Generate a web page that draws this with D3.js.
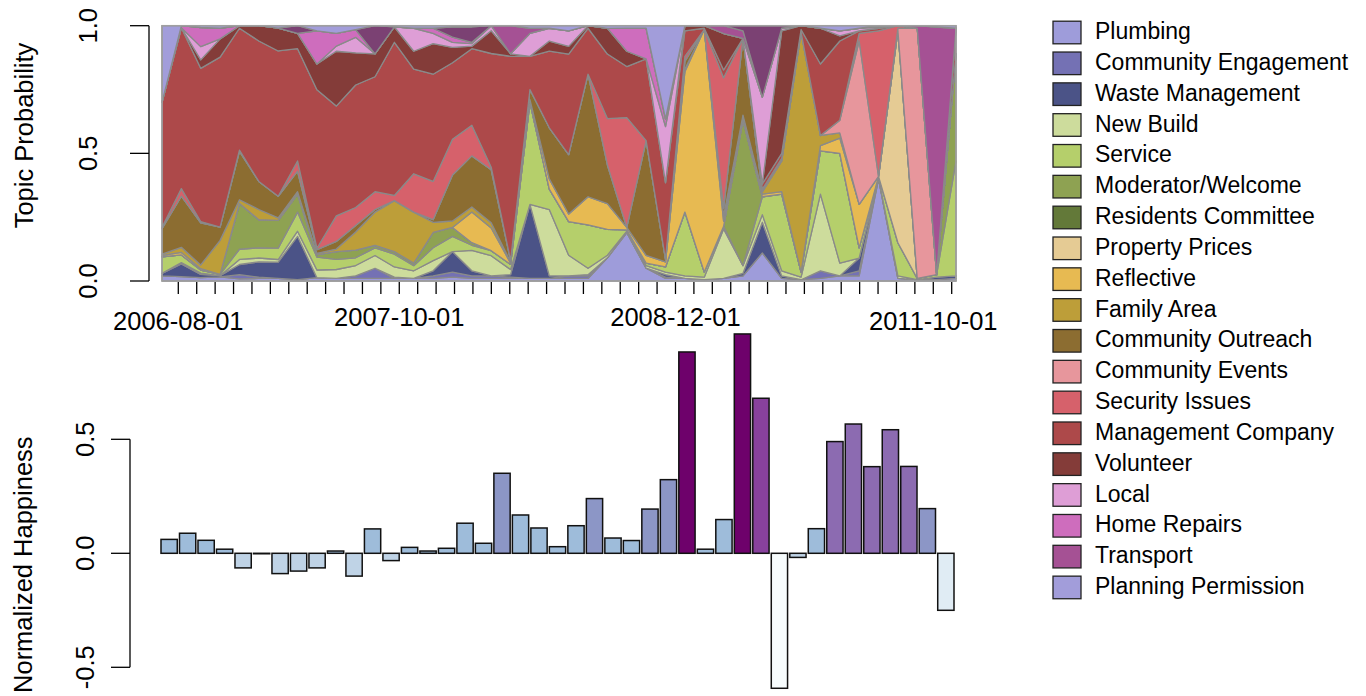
<!DOCTYPE html>
<html>
<head>
<meta charset="utf-8">
<script src="https://cdn.jsdelivr.net/npm/d3@7"></script>
<style>
  body { margin: 0; background: #fff; }
  text { font-family: "Liberation Sans", Arial, Helvetica, sans-serif; fill: #000; }
</style>
</head>
<body>
<script>
// topic names, bottom of the stack first ("" = layer with no legend entry)
var topics = ["Plumbing", "Community Engagement", "Waste Management", "New Build", "Service",
  "Moderator/Welcome", "Residents Committee", "Property Prices", "Reflective", "Family Area",
  "Community Outreach", "Community Events", "Security Issues", "Management Company", "Volunteer",
  "Local", "Home Repairs", "Transport", "", "Planning Permission"];

var topicColors = ["#9e9cda", "#7471b4", "#4b5387", "#cddc9c", "#b5cf6b",
  "#8ea252", "#637939", "#e5cb94", "#e7ba52", "#bd9e39",
  "#8c6d31", "#e7969c", "#d6616b", "#ad494a", "#843c39",
  "#de9ed6", "#ce6dbd", "#a55194", "#7b4173", "#a29dda"];

// topic probability per month (42 months)
var plumbing = [.02,.017,.013,.016,.008,.01,.01,.005,.013,.01,.01,.01,.01,.01,.01,.015,.01,.01,.01,.01,.01,.01,.01,.09,.19,.05,.01,.01,.005,.01,.02,.11,.01,.005,.01,.02,.02,.4,.01,.005,.005,.01];
var commEngagement = [0,0,0,0,.017,.005,0,0,0,0,.01,.04,0,0,.01,.02,.01,.01,.005,0,0,.01,.01,0,0,0,.005,0,0,0,0,0,0,0,.03,0,.02,0,0,0,0,0];
var wasteMgmt = [.01,.05,.013,.005,.04,.06,.065,.17,0,0,0,0,.005,0,.02,.08,.02,0,.01,.29,.01,0,.005,0,0,0,.01,0,0,0,.01,.12,.01,0,0,0,.05,0,0,0,.01,.01];
var newBuild = [0,.005,.005,0,.02,.015,.01,.02,.03,.035,.04,.05,.04,.03,.04,0,.08,.08,.02,0,.26,.08,.025,.01,.005,.01,.01,.01,.01,.19,.03,.03,.02,.01,.3,.05,0,.005,.01,0,0,0];
var service = [.065,.03,.012,.005,.04,.04,.045,.075,.05,.04,.03,.03,.05,.02,.05,.06,.02,.02,.02,.4,.08,.13,.17,.1,.005,.01,.02,.25,.02,.01,0,.07,.3,.02,.17,.43,.04,.005,.13,.005,.01,.45];
var moderator = [0,0,0,0,.18,.11,.11,.07,.01,.03,.03,.01,.01,.01,.06,.035,.01,0,0,0,0,0,0,0,0,0,0,0,0,0,.57,0,0,0,0,0,0,0,0,0,0,.42];
var residents = [0,0,0,0,0,0,0,0,0,0,0,0,0,0,0,0,0,0,0,0,0,0,0,0,0,0,0,0,0,0,0,0,0,0,0,0,0,0,0,0,0,0];
var propertyPrices = [0,0,0,0,0,0,0,0,0,0,0,0,0,0,0,0,0,0,0,0,0,0,0,0,0,0,0,0,0,0,0,0,0,0,0,0,0,0,.83,0,0,0];
var reflective = [.005,.01,.005,0,0,0,0,0,0,0,0,0,0,0,0,0,.12,.09,.005,.01,.04,.03,.11,.1,.01,.03,.02,.55,.95,.02,0,.01,.01,0,.02,.06,.17,0,0,0,0,0];
var familyArea = [.005,.02,.015,.134,.015,.04,.01,.01,.005,.01,.07,.13,.2,.2,.04,.025,.02,.02,.005,0,0,0,0,0,0,0,0,.01,0,.02,.02,.01,.12,.94,.04,.02,0,0,0,0,0,0];
var outreach = [.1,.2,.165,.052,.19,.11,.085,.08,.015,.03,.025,.01,0,0,.01,.18,.2,.21,.005,.04,.2,.23,.48,.15,0,.45,.01,.03,0,.03,.3,0,0,0,0,0,0,0,0,0,0,0];
var events = [0,0,0,0,0,0,0,0,0,0,0,0,0,0,0,0,0,0,0,0,0,0,0,0,0,0,0,0,0,0,0,0,0,0,0,.05,.64,0,.01,.98,0,0];
var security = [.005,.03,.005,0,.005,0,0,.04,.005,.1,.07,.07,.02,.15,.15,.14,.12,.01,0,0,0,0,0,.18,.43,0,0,.02,0,.5,0,.01,.01,0,0,0,.03,.57,.01,0,0,0];
var management = [.49,.63,.6,.67,.48,.55,.575,.44,.62,.43,.475,.45,.6,.41,.42,.3,.3,.45,.8,.13,.3,.39,.18,.25,.2,.32,.3,.1,.005,.03,0,.02,.02,.01,.28,.31,.01,.01,0,0,0,.1];
var volunteer = [0,0,.033,.072,.01,.06,.09,.06,.1,.215,.125,.09,.06,.07,.12,.06,.01,.09,.01,0,.04,.03,.01,.1,.06,0,0,.02,.01,.14,0,0,.48,.015,.14,.02,0,0,0,0,0,0];
var local = [0,0,.052,0,0,0,0,0,0,.02,.06,0,0,.09,.04,.02,.01,.02,0,.09,.05,.06,0,0,0,0,.22,0,0,0,0,.34,.01,0,0,.02,.01,.005,0,0,0,0];
var homeRepairs = [0,.008,.075,.042,0,0,0,0,.13,.05,.03,0,0,0,.02,.02,.005,0,0,0,0,0,0,0,.09,.12,.03,0,0,0,0,0,0,0,0,0,0,.005,0,0,0,0];
var transport = [0,0,0,0,0,0,0,0,0,0,0,0,0,0,0,0,0,0,.11,.02,0,0,0,0,0,0,0,0,0,.03,.03,0,0,0,0,0,0,0,0,.01,.97,0];
var unlabelled = [0,0,0,0,0,0,0,.03,0,0,0,.11,0,0,0,.04,.06,0,0,0,0,0,0,0,0,0,0,0,0,0,.02,.28,.01,0,0,0,0,0,0,0,0,0];
var planning = [.3,0,.007,.01,0,0,.01,0,.02,.03,.015,0,.005,.01,.01,.005,.005,0,0,.01,.01,.02,0,.01,.01,.01,.365,0,0,0,0,0,0,0,.01,.02,.01,0,0,0,.005,.01];

var topicSeries = [plumbing, commEngagement, wasteMgmt, newBuild, service, moderator, residents,
  propertyPrices, reflective, familyArea, outreach, events, security, management, volunteer,
  local, homeRepairs, transport, unlabelled, planning];

// normalized happiness per month (43 bars)
var happiness = [0.061, 0.088, 0.057, 0.018, -0.064, -0.002, -0.089, -0.078, -0.064, 0.01,
  -0.1, 0.107, -0.032, 0.026, 0.01, 0.022, 0.132, 0.044, 0.351, 0.168,
  0.111, 0.029, 0.121, 0.24, 0.067, 0.056, 0.194, 0.323, 0.883, 0.018,
  0.148, 0.962, 0.68, -0.592, -0.018, 0.108, 0.49, 0.567, 0.38, 0.542,
  0.381, 0.196, -0.25];
var buPu = ["#f7fcfd", "#e0ecf4", "#bfd3e6", "#9ebcda", "#8c96c6", "#8c6bb1", "#88419d", "#6e016b"];

var dateLabels = ["2006-08-01", "2007-10-01", "2008-12-01", "2011-10-01"];
var dateTickIndex = [0, 12, 27, 41];
var dateLabelRow = [1, 0, 0, 1];
var probTicks = [0, 0.5, 1];
var happyTicks = [-0.5, 0, 0.5];

var width = 1366, height = 696;

var svg = d3.select("body").append("svg")
  .attr("width", width)
  .attr("height", height);

// ---------- top: stacked topic probabilities ----------
var nMonths = plumbing.length;
var rows = d3.range(nMonths).map(function(i) {
  var r = {};
  topicSeries.forEach(function(s, k) { r[k] = s[i]; });
  return r;
});

var stack = d3.stack()
  .keys(d3.range(topics.length))
  .offset(d3.stackOffsetExpand);
var layers = stack(rows);

var xA = d3.scaleLinear().domain([0, nMonths - 1]).range([162, 956]);
var yA = d3.scaleLinear().domain([0, 1]).range([281, 25.7]);

var area = d3.area()
  .x(function(d, i) { return xA(i); })
  .y0(function(d) { return yA(d[0]); })
  .y1(function(d) { return yA(d[1]); });

svg.append("g").selectAll("path")
  .data(layers)
  .enter().append("path")
    .attr("d", area)
    .attr("fill", function(d) { return topicColors[d.key]; })
    .attr("stroke", "#8a8a8a")
    .attr("stroke-width", 1.3)
    .attr("stroke-linejoin", "round");

svg.append("rect")
  .attr("x", xA(0)).attr("y", yA(1))
  .attr("width", xA(nMonths - 1) - xA(0))
  .attr("height", yA(0) - yA(1))
  .attr("fill", "none")
  .attr("stroke", "#a0a0a0")
  .attr("stroke-width", 1.5);

// month ticks under the area chart
var xT = d3.scalePoint().domain(d3.range(happiness.length)).range([178.3, 951.7]);
svg.append("g").selectAll("line")
  .data(xT.domain())
  .enter().append("line")
    .attr("x1", function(d) { return xT(d); })
    .attr("x2", function(d) { return xT(d); })
    .attr("y1", 282).attr("y2", 294)
    .attr("stroke", "#000").attr("stroke-width", 1.3);

svg.append("g").selectAll("text")
  .data(dateLabels)
  .enter().append("text")
    .attr("x", function(d, i) { return xT(dateTickIndex[i]); })
    .attr("y", function(d, i) { return 325.5 + dateLabelRow[i] * 4.5; })
    .attr("text-anchor", "middle")
    .style("font-size", "25.5px")
    .text(function(d) { return d; });

// left axis of the area chart
var gA = svg.append("g").attr("transform", "translate(149,0)");
gA.append("line").attr("x1", 0).attr("x2", 0)
  .attr("y1", yA(0)).attr("y2", yA(1))
  .attr("stroke", "#000").attr("stroke-width", 1.3);
gA.selectAll(".tk").data(probTicks).enter().append("line")
  .attr("x1", -19).attr("x2", 0)
  .attr("y1", function(d) { return yA(d); }).attr("y2", function(d) { return yA(d); })
  .attr("stroke", "#000").attr("stroke-width", 1.3);
gA.selectAll("text").data(probTicks).enter().append("text")
  .attr("transform", function(d) { return "translate(-52," + yA(d) + ") rotate(-90)"; })
  .attr("text-anchor", "middle")
  .style("font-size", "25.5px")
  .text(function(d) { return d.toFixed(1); });

svg.append("text")
  .attr("transform", "translate(33," + yA(0.57) + ") rotate(-90)")
  .attr("text-anchor", "middle")
  .style("font-size", "25.5px")
  .text("Topic Probability");

// ---------- bottom: happiness bars ----------
var xB = d3.scaleBand().domain(d3.range(happiness.length))
  .range([161, 954]).paddingInner(0.12).paddingOuter(0);
var yB = d3.scaleLinear().domain([-0.5, 0.5]).range([667.3, 439.3]);
var barColor = d3.scaleQuantize().domain(d3.extent(happiness)).range(buPu);

svg.append("g").selectAll("rect")
  .data(happiness)
  .enter().append("rect")
    .attr("x", function(d, i) { return xB(i); })
    .attr("y", function(d) { return yB(Math.max(0, d)); })
    .attr("width", xB.bandwidth())
    .attr("height", function(d) { return Math.abs(yB(d) - yB(0)); })
    .attr("fill", function(d) { return barColor(d); })
    .attr("stroke", "#111")
    .attr("stroke-width", 1.5);

var gB = svg.append("g").attr("transform", "translate(130,0)");
gB.append("line").attr("x1", 0).attr("x2", 0)
  .attr("y1", yB(-0.5)).attr("y2", yB(0.5))
  .attr("stroke", "#000").attr("stroke-width", 1.3);
gB.selectAll(".tk").data(happyTicks).enter().append("line")
  .attr("x1", -19).attr("x2", 0)
  .attr("y1", function(d) { return yB(d); }).attr("y2", function(d) { return yB(d); })
  .attr("stroke", "#000").attr("stroke-width", 1.3);
gB.selectAll("text").data(happyTicks).enter().append("text")
  .attr("transform", function(d) { return "translate(-36," + yB(d) + ") rotate(-90)"; })
  .attr("text-anchor", "middle")
  .style("font-size", "25.5px")
  .text(function(d) { return d.toFixed(1); });

svg.append("text")
  .attr("transform", "translate(32," + yB(-0.05) + ") rotate(-90)")
  .attr("text-anchor", "middle")
  .style("font-size", "25.5px")
  .text("Normalized Happiness");

// ---------- legend ----------
var legendItems = topics.map(function(t, k) { return {name: t, color: topicColors[k]}; })
  .filter(function(d) { return d.name !== ""; });

var legend = svg.append("g").selectAll("g")
  .data(legendItems)
  .enter().append("g")
    .attr("transform", function(d, i) { return "translate(1053," + (32.5 + i * 30.83) + ")"; });

legend.append("rect")
  .attr("x", 0).attr("y", -11.3)
  .attr("width", 28).attr("height", 22.6)
  .attr("fill", function(d) { return d.color; })
  .attr("stroke", "#222").attr("stroke-width", 1.3);

legend.append("text")
  .attr("x", 42).attr("y", -1.5)
  .attr("dy", "0.35em")
  .style("font-size", "23px")
  .text(function(d) { return d.name; });
</script>
</body>
</html>
